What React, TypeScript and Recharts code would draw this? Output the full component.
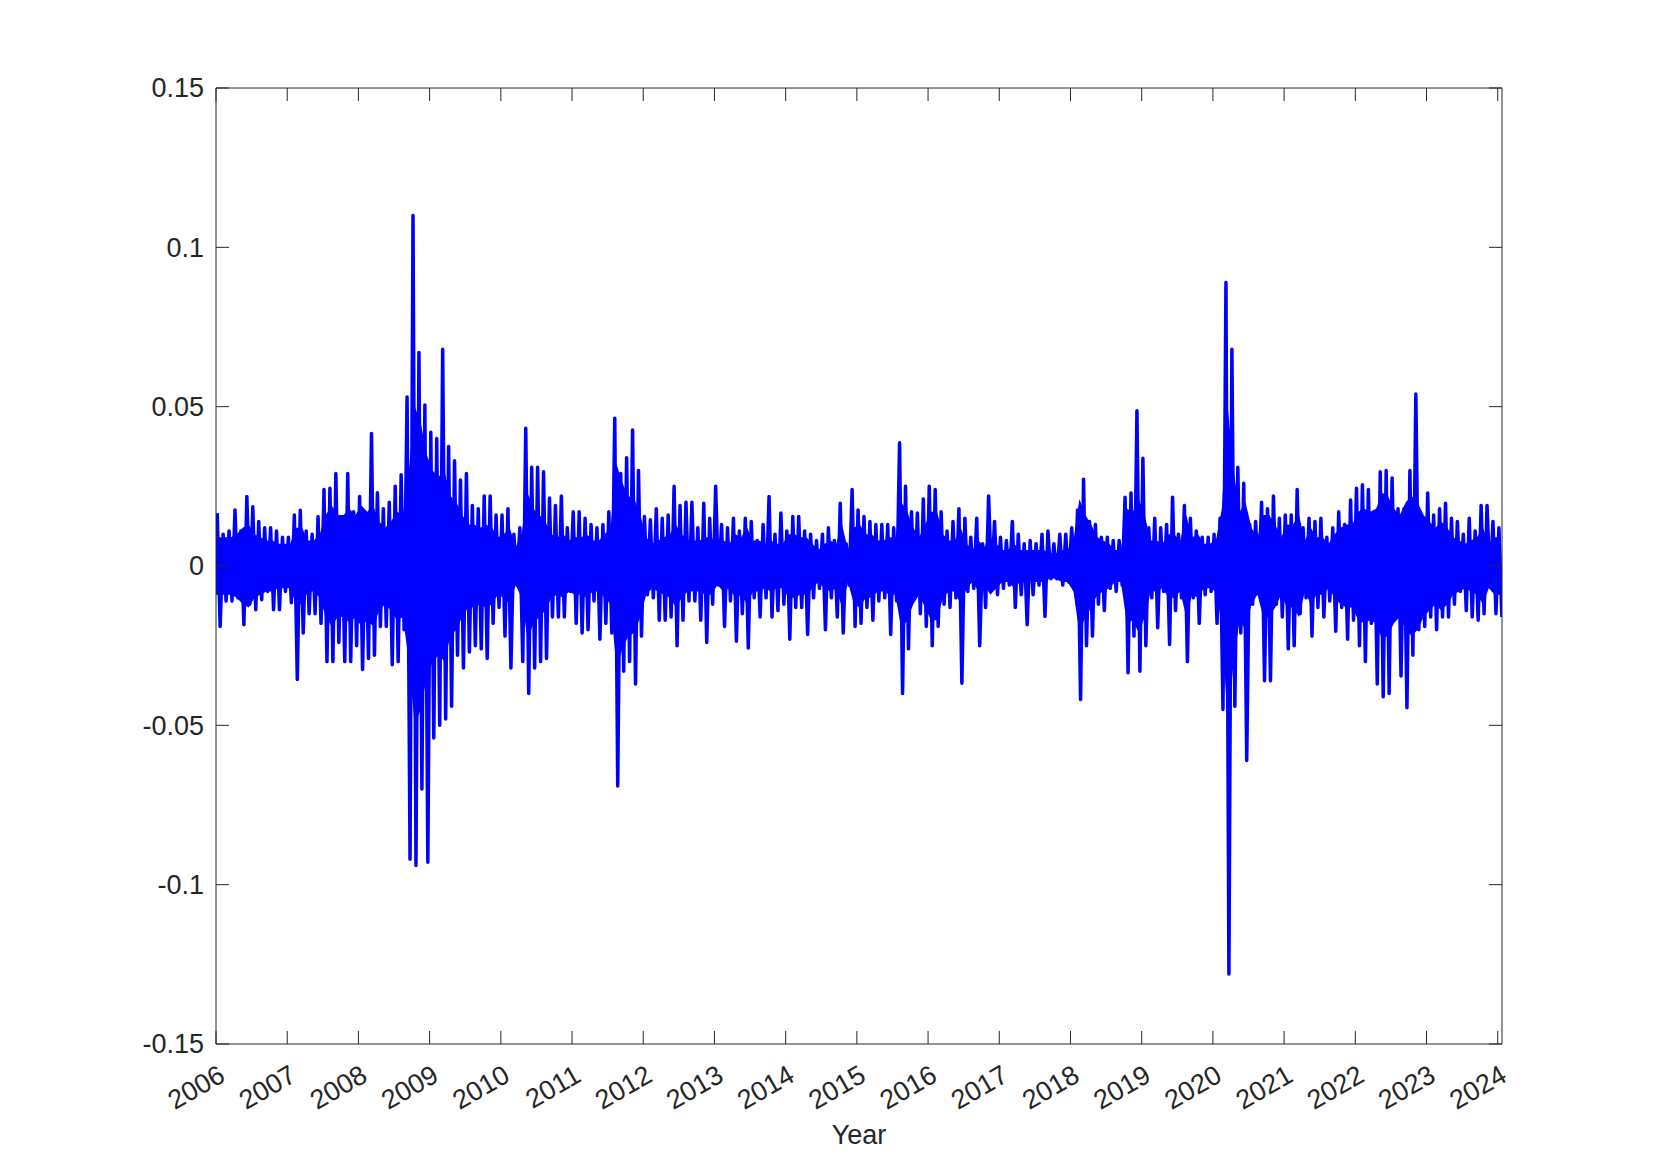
import React from "react";
import { ComposedChart, Line, Area, XAxis, YAxis } from "recharts";

// monthly extremes of daily returns (Jan 2006 .. Jan 2024)
const startYear = 2006;

const monthlyHigh = [
  0.0166, 0.01, 0.011, 0.0176, 0.011, 0.0218, 0.0186, 0.014, 0.012, 0.012, 0.011, 0.009, // 2006
  0.009, 0.016, 0.0175, 0.011, 0.01, 0.0155, 0.024, 0.0244, 0.029, 0.014, 0.029, 0.017, // 2007
  0.0218, 0.0145, 0.0416, 0.023, 0.018, 0.02, 0.025, 0.0286, 0.053, 0.11, 0.067, 0.0505, // 2008
  0.042, 0.04, 0.068, 0.0375, 0.033, 0.027, 0.029, 0.019, 0.018, 0.022, 0.022, 0.016, // 2009
  0.016, 0.018, 0.01, 0.012, 0.0432, 0.031, 0.031, 0.0296, 0.0213, 0.019, 0.022, 0.012, // 2010
  0.017, 0.017, 0.015, 0.013, 0.012, 0.013, 0.017, 0.0464, 0.029, 0.034, 0.0427, 0.03, // 2011
  0.0155, 0.0145, 0.018, 0.015, 0.016, 0.025, 0.019, 0.02, 0.02, 0.012, 0.0197, 0.015, // 2012
  0.025, 0.013, 0.012, 0.015, 0.011, 0.015, 0.014, 0.008, 0.013, 0.0218, 0.01, 0.0166, // 2013
  0.011, 0.0155, 0.0155, 0.011, 0.01, 0.008, 0.01, 0.012, 0.008, 0.0197, 0.007, 0.024, // 2014
  0.0176, 0.0155, 0.014, 0.013, 0.013, 0.013, 0.012, 0.0387, 0.025, 0.017, 0.0166, 0.021, // 2015
  0.025, 0.024, 0.017, 0.011, 0.014, 0.018, 0.015, 0.009, 0.015, 0.007, 0.022, 0.014, // 2016
  0.009, 0.008, 0.014, 0.01, 0.007, 0.008, 0.007, 0.01, 0.011, 0.007, 0.01, 0.01, // 2017
  0.012, 0.0176, 0.0272, 0.014, 0.013, 0.009, 0.009, 0.008, 0.008, 0.0216, 0.0229, 0.0487, // 2018
  0.0338, 0.012, 0.015, 0.012, 0.013, 0.0216, 0.01, 0.019, 0.015, 0.011, 0.009, 0.009, // 2019
  0.01, 0.015, 0.089, 0.068, 0.031, 0.026, 0.013, 0.014, 0.02, 0.018, 0.022, 0.015, // 2020
  0.016, 0.016, 0.024, 0.012, 0.015, 0.014, 0.015, 0.009, 0.012, 0.017, 0.013, 0.0207, // 2021
  0.0244, 0.0255, 0.024, 0.016, 0.0296, 0.03, 0.0276, 0.018, 0.018, 0.03, 0.054, 0.015, // 2022
  0.0229, 0.016, 0.018, 0.0197, 0.015, 0.014, 0.01, 0.015, 0.011, 0.019, 0.019, 0.014, // 2023
  0.012, // 2024
];

const monthlyLow = [
  -0.019, -0.011, -0.011, -0.01, -0.0184, -0.012, -0.0137, -0.0106, -0.008, -0.0137, -0.0137, -0.008, // 2006
  -0.0115, -0.0356, -0.021, -0.015, -0.015, -0.018, -0.03, -0.03, -0.024, -0.03, -0.03, -0.025, // 2007
  -0.0325, -0.029, -0.028, -0.019, -0.019, -0.031, -0.03, -0.02, -0.092, -0.094, -0.07, -0.093, // 2008
  -0.054, -0.05, -0.048, -0.044, -0.028, -0.032, -0.027, -0.025, -0.026, -0.029, -0.018, -0.013, // 2009
  -0.022, -0.032, -0.006, -0.03, -0.04, -0.032, -0.03, -0.029, -0.016, -0.016, -0.016, -0.008, // 2010
  -0.018, -0.021, -0.02, -0.011, -0.023, -0.018, -0.021, -0.069, -0.033, -0.03, -0.037, -0.022, // 2011
  -0.009, -0.01, -0.017, -0.017, -0.016, -0.025, -0.017, -0.011, -0.011, -0.017, -0.024, -0.012, // 2012
  -0.006, -0.019, -0.011, -0.0236, -0.015, -0.0257, -0.01, -0.016, -0.01, -0.016, -0.014, -0.012, // 2013
  -0.023, -0.013, -0.013, -0.0215, -0.01, -0.007, -0.02, -0.01, -0.016, -0.021, -0.006, -0.019, // 2014
  -0.018, -0.013, -0.017, -0.011, -0.01, -0.0215, -0.011, -0.04, -0.026, -0.01, -0.015, -0.019, // 2015
  -0.025, -0.019, -0.012, -0.013, -0.01, -0.0368, -0.008, -0.007, -0.025, -0.013, -0.006, -0.009, // 2016
  -0.007, -0.006, -0.013, -0.009, -0.0184, -0.009, -0.006, -0.0158, -0.004, -0.004, -0.006, -0.005, // 2017
  -0.007, -0.0419, -0.025, -0.022, -0.012, -0.014, -0.007, -0.008, -0.006, -0.0335, -0.022, -0.033, // 2018
  -0.025, -0.01, -0.0194, -0.008, -0.0246, -0.014, -0.01, -0.03, -0.01, -0.018, -0.009, -0.008, // 2019
  -0.018, -0.045, -0.128, -0.044, -0.021, -0.061, -0.012, -0.008, -0.036, -0.036, -0.012, -0.016, // 2020
  -0.026, -0.025, -0.015, -0.01, -0.022, -0.013, -0.016, -0.011, -0.0205, -0.013, -0.023, -0.017, // 2021
  -0.025, -0.03, -0.018, -0.037, -0.041, -0.04, -0.016, -0.0345, -0.0445, -0.028, -0.02, -0.019, // 2022
  -0.016, -0.02, -0.016, -0.016, -0.012, -0.008, -0.014, -0.016, -0.017, -0.015, -0.006, -0.015, // 2023
  -0.016, // 2024
];

// half-width of the solid core of the trace, per month
const monthlyCore = [
  0.009, 0.009, 0.009, 0.01, 0.012, 0.013, 0.01, 0.009, 0.008, 0.008, 0.007, 0.007, // 2006
  0.007, 0.012, 0.012, 0.008, 0.008, 0.01, 0.016, 0.019, 0.016, 0.016, 0.018, 0.016, // 2007
  0.019, 0.017, 0.019, 0.014, 0.012, 0.014, 0.017, 0.016, 0.03, 0.05, 0.045, 0.035, // 2008
  0.03, 0.028, 0.03, 0.022, 0.02, 0.016, 0.013, 0.013, 0.012, 0.013, 0.012, 0.009, // 2009
  0.01, 0.012, 0.006, 0.01, 0.023, 0.018, 0.016, 0.014, 0.01, 0.009, 0.01, 0.008, // 2010
  0.009, 0.009, 0.01, 0.008, 0.008, 0.01, 0.012, 0.032, 0.026, 0.022, 0.021, 0.016, // 2011
  0.009, 0.007, 0.008, 0.009, 0.01, 0.013, 0.01, 0.008, 0.008, 0.008, 0.009, 0.009, // 2012
  0.006, 0.008, 0.007, 0.01, 0.009, 0.012, 0.008, 0.008, 0.007, 0.008, 0.007, 0.007, // 2013
  0.01, 0.01, 0.009, 0.009, 0.007, 0.005, 0.007, 0.008, 0.007, 0.013, 0.005, 0.012, // 2014
  0.013, 0.01, 0.01, 0.008, 0.008, 0.009, 0.009, 0.02, 0.017, 0.012, 0.009, 0.013, // 2015
  0.017, 0.017, 0.01, 0.008, 0.008, 0.012, 0.007, 0.005, 0.008, 0.006, 0.009, 0.007, // 2016
  0.005, 0.005, 0.007, 0.005, 0.005, 0.005, 0.005, 0.005, 0.004, 0.004, 0.005, 0.005, // 2017
  0.008, 0.021, 0.016, 0.013, 0.009, 0.008, 0.007, 0.005, 0.005, 0.018, 0.017, 0.021, // 2018
  0.016, 0.008, 0.008, 0.007, 0.01, 0.01, 0.008, 0.016, 0.009, 0.01, 0.007, 0.007, // 2019
  0.008, 0.018, 0.05, 0.03, 0.017, 0.02, 0.012, 0.009, 0.016, 0.016, 0.013, 0.009, // 2020
  0.013, 0.013, 0.016, 0.008, 0.012, 0.009, 0.009, 0.007, 0.01, 0.012, 0.013, 0.013, // 2021
  0.017, 0.018, 0.017, 0.018, 0.023, 0.022, 0.018, 0.016, 0.02, 0.022, 0.02, 0.016, // 2022
  0.014, 0.012, 0.014, 0.012, 0.009, 0.008, 0.007, 0.008, 0.009, 0.012, 0.007, 0.009, // 2023
  0.009, // 2024
];

const yearTicks = [
  2006, 2007, 2008, 2009, 2010, 2011, 2012, 2013, 2014, 2015, 2016, 2017, 2018,
  2019, 2020, 2021, 2022, 2023, 2024,
];
const returnTicks = [-0.15, -0.1, -0.05, 0, 0.05, 0.1, 0.15];

const AXIS = "#262626";
const FONT = "'Liberation Sans', Arial, Helvetica, sans-serif";
const FONT_SIZE = 27;
const TICK_LEN = 13;
const X_DOMAIN: [number, number] = [2006, 2024.06];
const Y_DOMAIN: [number, number] = [-0.15, 0.15];

const points = monthlyHigh.flatMap((hi, i) => [
  { t: startYear + (i + 0.2) / 12, r: hi },
  { t: startYear + (i + 0.7) / 12, r: monthlyLow[i] },
]);

const core = monthlyCore.map((c, i) => ({
  t: i === 0 ? X_DOMAIN[0] : Math.min(startYear + (i + 0.5) / 12, X_DOMAIN[1]),
  band: [-c, c],
}));

function YearTick(props: any) {
  const { x, y, payload } = props;
  const ax = x + 6;
  const ay = y + 28;
  return (
    <g>
      <line x1={x} y1={y} x2={x} y2={y - TICK_LEN} stroke={AXIS} />
      <text
        x={ax}
        y={ay}
        dy="0.35em"
        textAnchor="end"
        transform={`rotate(-30, ${ax}, ${ay})`}
        fill={AXIS}
        fontSize={FONT_SIZE}
        fontFamily={FONT}
      >
        {payload.value}
      </text>
    </g>
  );
}

function ReturnTick(props: any) {
  const { x, y, payload } = props;
  return (
    <g>
      <line x1={x} y1={y} x2={x + TICK_LEN} y2={y} stroke={AXIS} />
      <text
        x={x - 12}
        y={y}
        dy="0.35em"
        textAnchor="end"
        fill={AXIS}
        fontSize={FONT_SIZE}
        fontFamily={FONT}
      >
        {String(payload.value)}
      </text>
    </g>
  );
}

// inward tick marks for the top and right edges of the box
function TopTick(props: any) {
  const { x, y } = props;
  return <line x1={x} y1={y} x2={x} y2={y + TICK_LEN} stroke={AXIS} />;
}

function RightTick(props: any) {
  const { x, y } = props;
  return <line x1={x} y1={y} x2={x - TICK_LEN} y2={y} stroke={AXIS} />;
}

export default function App() {
  return (
    <div
      style={{
        position: "absolute",
        left: 0,
        top: 0,
        width: 1661,
        height: 1174,
        background: "#ffffff",
      }}
    >
      <ComposedChart
        width={1661}
        height={1174}
        data={points}
        margin={{ top: 88, right: 159, bottom: 0, left: 0 }}
      >
        <XAxis
          dataKey="t"
          type="number"
          domain={X_DOMAIN}
          ticks={yearTicks}
          interval={0}
          allowDataOverflow
          height={130}
          tickSize={0}
          tickMargin={0}
          tickLine={false}
          axisLine={{ stroke: AXIS }}
          tick={YearTick}
          label={{
            value: "Year",
            position: "insideBottom",
            offset: 30,
            fill: AXIS,
            fontSize: FONT_SIZE,
            fontFamily: FONT,
          }}
        />
        <XAxis
          xAxisId="top"
          dataKey="t"
          orientation="top"
          type="number"
          domain={X_DOMAIN}
          ticks={yearTicks}
          interval={0}
          allowDataOverflow
          height={1}
          mirror
          tickSize={0}
          tickMargin={0}
          tickLine={false}
          tick={TopTick}
          axisLine={{ stroke: AXIS }}
        />
        <YAxis
          type="number"
          domain={Y_DOMAIN}
          ticks={returnTicks}
          interval={0}
          allowDataOverflow
          width={216}
          tickSize={0}
          tickMargin={0}
          tickLine={false}
          axisLine={{ stroke: AXIS }}
          tick={ReturnTick}
        />
        <YAxis
          yAxisId="right"
          orientation="right"
          type="number"
          domain={Y_DOMAIN}
          ticks={returnTicks}
          interval={0}
          allowDataOverflow
          width={1}
          mirror
          tickSize={0}
          tickMargin={0}
          tickLine={false}
          tick={RightTick}
          axisLine={{ stroke: AXIS }}
        />
        <Area
          data={core}
          dataKey="band"
          type="linear"
          stroke="none"
          fill="#0000ff"
          fillOpacity={1}
          dot={false}
          activeDot={false}
          isAnimationActive={false}
        />
        <Line
          dataKey="r"
          type="linear"
          stroke="#0000ff"
          strokeWidth={3.5}
          strokeLinejoin="round"
          dot={false}
          activeDot={false}
          isAnimationActive={false}
        />
        <Line
          xAxisId="top"
          yAxisId="right"
          dataKey="r"
          stroke="none"
          strokeWidth={0}
          dot={false}
          activeDot={false}
          legendType="none"
          isAnimationActive={false}
        />
      </ComposedChart>
    </div>
  );
}
